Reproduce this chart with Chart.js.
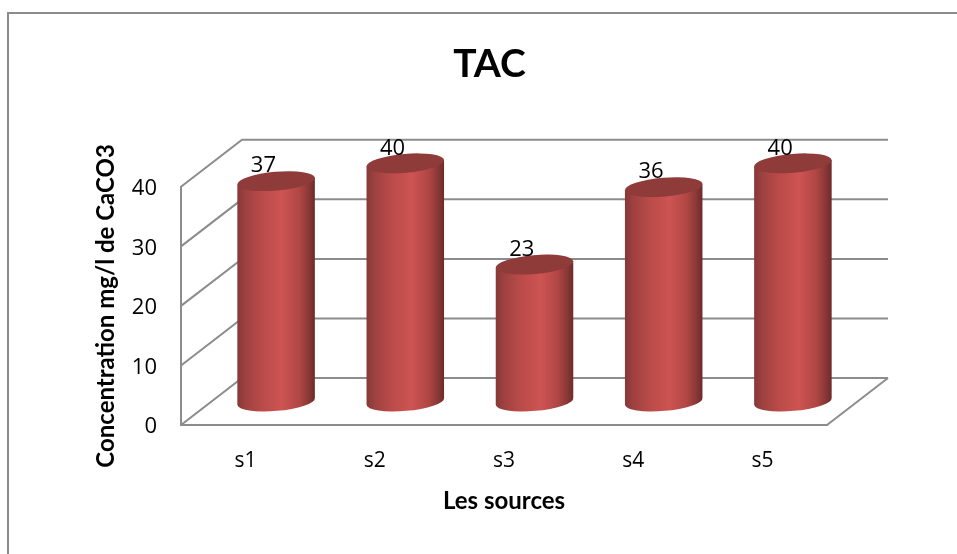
<!DOCTYPE html>
<html>
<head>
<meta charset="utf-8">
<title>TAC</title>
<script src="https://cdn.jsdelivr.net/npm/chart.js@4/dist/chart.umd.min.js"></script>
<style>
    html, body { margin: 0; padding: 0; background: #fff; overflow: hidden; }
    #wrap { position: relative; width: 957px; height: 554px; }
    #frame { position: absolute; left: 7px; top: 12px; right: -4px; bottom: -4px; border: 2px solid #8c8c8c; }
    canvas { position: absolute; left: 0; top: 0; }
</style>
</head>
<body>
<div id="wrap">
    <div id="frame"></div>
    <canvas id="graph" width="957" height="554"></canvas>
</div>
<script>
var categories = ['s1', 's2', 's3', 's4', 's5'];
var tacValues = [37, 40, 23, 36, 40];
var yTicks = [0, 10, 20, 30, 40];

// Profondeur de la perspective (mur du fond)
var DEPTH_X = 61;
var DEPTH_Y = -47;
var GRID_COLOR = '#8c8c8c';

// Grille en fausse 3D : mur du fond, mur gauche et plancher
var wallsPlugin = {
    id: 'walls',
    beforeDatasetsDraw: function (chart) {
        var ctx = chart.ctx;
        var area = chart.chartArea;
        var y = chart.scales.y;
        ctx.save();
        ctx.strokeStyle = GRID_COLOR;
        ctx.lineWidth = 2;
        yTicks.forEach(function (t) {
            var py = y.getPixelForValue(t);
            ctx.beginPath();
            ctx.moveTo(area.left, py);
            ctx.lineTo(area.left + DEPTH_X, py + DEPTH_Y);
            ctx.lineTo(area.right + DEPTH_X, py + DEPTH_Y);
            ctx.stroke();
        });
        // bord droit du plancher
        ctx.beginPath();
        ctx.moveTo(area.right, area.bottom);
        ctx.lineTo(area.right + DEPTH_X, area.bottom + DEPTH_Y);
        ctx.stroke();
        ctx.restore();
    }
};

// Chaque barre devient un cylindre, place au milieu de la profondeur
var cylinderPlugin = {
    id: 'cylinder',
    beforeDatasetDraw: function (chart, args) {
        var ctx = chart.ctx;
        args.meta.data.forEach(function (bar, i) {
            var cx = bar.x + DEPTH_X / 2;
            var top = bar.y + DEPTH_Y / 2;
            var bottom = bar.base + DEPTH_Y / 2;
            var half = bar.width / 2;
            var rot = -4.9 * Math.PI / 180;
            var rx = half / Math.cos(rot);
            var ry = 9.4;
            var lift = half * Math.tan(rot);

            var grad = ctx.createLinearGradient(cx - half, 0, cx + half, 0);
            grad.addColorStop(0, '#853836');
            grad.addColorStop(0.1, '#9c4140');
            grad.addColorStop(0.3, '#b84a48');
            grad.addColorStop(0.58, '#cd5452');
            grad.addColorStop(0.8, '#b04644');
            grad.addColorStop(0.92, '#8a3836');
            grad.addColorStop(1, '#6d2b29');

            ctx.save();
            ctx.fillStyle = grad;
            ctx.beginPath();
            ctx.ellipse(cx, bottom, rx, ry, rot, 0, Math.PI);
            ctx.lineTo(cx - half, top - lift);
            ctx.lineTo(cx + half, top + lift);
            ctx.closePath();
            ctx.fill();

            ctx.fillStyle = '#8f3b3a';
            ctx.beginPath();
            ctx.ellipse(cx, top, rx, ry, rot, 0, Math.PI * 2);
            ctx.fill();

            // etiquette de valeur
            ctx.fillStyle = '#000';
            ctx.font = '22px "Open Sans"';
            ctx.textAlign = 'center';
            ctx.textBaseline = 'middle';
            ctx.fillText(tacValues[i], cx - 12.7, top - 15);
            ctx.restore();
        });
        return false;
    }
};

var chart = new Chart(document.getElementById('graph').getContext('2d'), {
    type: 'bar',
    data: {
        labels: categories,
        datasets: [{
            label: 'TAC',
            data: tacValues,
            backgroundColor: '#c0504d',
            categoryPercentage: 1,
            barPercentage: 0.6
        }]
    },
    options: {
        responsive: false,
        animation: false,
        layout: { padding: { left: 22, right: 0, top: 0, bottom: 0 } },
        scales: {
            x: {
                grid: { display: false },
                border: { color: GRID_COLOR, width: 2 },
                ticks: { color: '#000', font: { family: 'Open Sans', size: 21 }, padding: 15 },
                title: {
                    display: true,
                    text: 'Les sources',
                    color: '#000',
                    font: { family: 'Lato', size: 24, weight: 'bold' },
                    padding: { top: 10, bottom: 38 }
                },
                afterFit: function (scale) { scale.height = 129; }
            },
            y: {
                min: 0,
                max: 40,
                grid: { display: false },
                border: { color: GRID_COLOR, width: 2 },
                ticks: { color: '#000', stepSize: 10, font: { family: 'Open Sans', size: 22 }, padding: 16, labelOffset: 2 },
                title: {
                    display: true,
                    text: 'Concentration mg/l de CaCO3',
                    color: '#000',
                    font: { family: 'Lato', size: 24, weight: 'bold' },
                    padding: { top: 70, bottom: 0 }
                },
                afterFit: function (scale) { scale.width = 159; }
            },
            // axe vide qui reserve la marge de droite
            spacer: {
                position: 'right',
                grid: { display: false },
                border: { display: false },
                ticks: { display: false },
                afterFit: function (scale) { scale.width = 130; }
            }
        },
        plugins: {
            legend: { display: false },
            tooltip: { enabled: false },
            title: {
                display: true,
                text: 'TAC',
                color: '#000',
                font: { family: 'Lato', size: 39, weight: 'bold' },
                padding: { top: 41, bottom: 99 }
            }
        }
    },
    plugins: [wallsPlugin, cylinderPlugin]
});
</script>
</body>
</html>
